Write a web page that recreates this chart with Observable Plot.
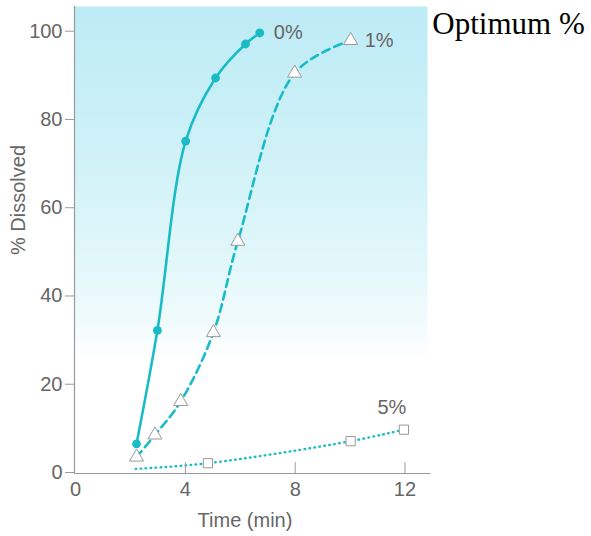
<!DOCTYPE html>
<html><head><meta charset="utf-8">
<script src="https://cdn.jsdelivr.net/npm/d3@7"></script>
<script src="https://cdn.jsdelivr.net/npm/@observablehq/plot@0.6"></script>
<style>body{margin:0;background:#fff}</style>
</head><body><div id="chart"></div>
<script>
// ---- data ----
const seriesNames = ["0%", "1%", "5%"];
const time0 = [2.22, 2.98, 4.01, 5.1, 6.19, 6.71];
const dissolved0 = [6.5, 32.2, 75.1, 89.4, 97.1, 99.6];
const time1 = [2.22, 2.89, 3.83, 5.02, 5.91, 7.98, 10.02];
const dissolved1 = [3.5, 8.5, 16.1, 31.7, 52.4, 90.5, 97.9];
const time5 = [2.19, 4.82, 10.02, 11.96];
const dissolved5 = [0.8, 2.1, 7.1, 9.7];
const xTicks = [0, 4, 8, 12];
const yTicks = [0, 20, 40, 60, 80, 100];
const xLabel = "Time (min)";
const yLabel = "% Dissolved";
const sideTitle = "Optimum %";

const teal = "#19bcc6";
const textGray = "#666";
const axisGray = "#9a9a9a";
const font = "Liberation Sans, Arial, Helvetica, sans-serif";

const s0 = time0.map((t, i) => ({t, v: dissolved0[i]}));
const s1 = time1.map((t, i) => ({t, v: dissolved1[i]}));
const s5 = time5.map((t, i) => ({t, v: dissolved5[i]}));
const lastPts = [
  {...s0[s0.length - 1], name: seriesNames[0]},
  {...s1[s1.length - 1], name: seriesNames[1]},
  {...s5[s5.length - 1], name: seriesNames[2]}
];

const tickShape = {draw(ctx, l) { ctx.moveTo(0, 0); ctx.lineTo(0, -l); }};

const chart = Plot.plot({
  width: 591,
  height: 536,
  marginLeft: 74,
  marginRight: 164,
  marginTop: 6,
  marginBottom: 63,
  style: {fontFamily: font, fontSize: "20px", color: textGray, background: "#fff"},
  x: {domain: [-0.04, 12.82]},
  y: {domain: [-0.23, 105.6]},
  marks: [
    Plot.frame({fill: "url(#bgGrad)", stroke: "none"}),
    Plot.line(s0, {x: "t", y: "v", curve: "catmull-rom", stroke: teal, strokeWidth: 2.6}),
    Plot.line(s1, {x: "t", y: "v", curve: "catmull-rom", stroke: teal, strokeWidth: 2.6, strokeDasharray: "8,5"}),
    Plot.line(s5, {x: "t", y: "v", curve: "catmull-rom", stroke: teal, strokeWidth: 2.4, strokeLinecap: "round", strokeDasharray: "0.6,4.4"}),
    Plot.dot(s0, {x: "t", y: "v", r: 4.4, fill: teal, stroke: "none"}),
    Plot.dot(s1, {x: "t", y: "v", symbol: "triangle", r: 5.2, fill: "#fff", stroke: "#999", strokeWidth: 1}),
    Plot.dot(s5.slice(1), {x: "t", y: "v", symbol: "square", r: 5.2, fill: "#fff", stroke: "#999", strokeWidth: 1}),
    Plot.text(lastPts.slice(0, 2), {x: "t", y: "v", text: "name", textAnchor: "start", dx: 14, dy: 0, fill: textGray, fontSize: 20}),
    Plot.text(lastPts.slice(2), {x: "t", y: "v", text: "name", textAnchor: "middle", dx: -12, dy: -22, fill: textGray, fontSize: 20}),
    Plot.axisY({ticks: yTicks, tickSize: 9, tickPadding: 3, stroke: axisGray, fill: textGray, label: null, fontSize: 20}),
    Plot.axisX({ticks: xTicks, tickSize: 0, tickPadding: 8, fill: textGray, label: null, fontSize: 20}),
    Plot.vector(xTicks.slice(1), {x: d => d, frameAnchor: "bottom", length: 11, rotate: 0, anchor: "start", shape: tickShape, stroke: axisGray, strokeWidth: 1}),
    Plot.ruleX([-0.04], {stroke: axisGray, strokeWidth: 1.2}),
    Plot.ruleY([-0.23], {stroke: axisGray, strokeWidth: 1.2, x1: -0.04, x2: 12.95}),
    Plot.text([yLabel], {text: d => d, frameAnchor: "left", dx: -56, dy: 15, rotate: -90, fill: textGray, fontSize: 20}),
    Plot.text([xLabel], {text: d => d, frameAnchor: "bottom", lineAnchor: "middle", dx: -6, dy: 47, fill: textGray, fontSize: 20}),
    Plot.text([sideTitle], {text: d => d, frameAnchor: "top-right", textAnchor: "middle", lineAnchor: "middle", dx: 81, dy: 18, fill: "#000", fontSize: 31, fontFamily: "Liberation Serif, Times New Roman, serif"})
  ]
});

const ns = "http://www.w3.org/2000/svg";
const defs = document.createElementNS(ns, "defs");
const grad = document.createElementNS(ns, "linearGradient");
grad.setAttribute("id", "bgGrad");
grad.setAttribute("x1", "0"); grad.setAttribute("y1", "0");
grad.setAttribute("x2", "0"); grad.setAttribute("y2", "1");
[["0", "#bdebf5"], ["0.3", "#cef1f7"], ["0.55", "#e2f7fa"], ["0.68", "#f1fbfd"], ["0.76", "#ffffff"], ["1", "#ffffff"]].forEach(([o, c]) => {
  const st = document.createElementNS(ns, "stop");
  st.setAttribute("offset", o); st.setAttribute("stop-color", c);
  grad.appendChild(st);
});
defs.appendChild(grad);
chart.insertBefore(defs, chart.firstChild);
document.getElementById("chart").appendChild(chart);
</script>
</body></html>
